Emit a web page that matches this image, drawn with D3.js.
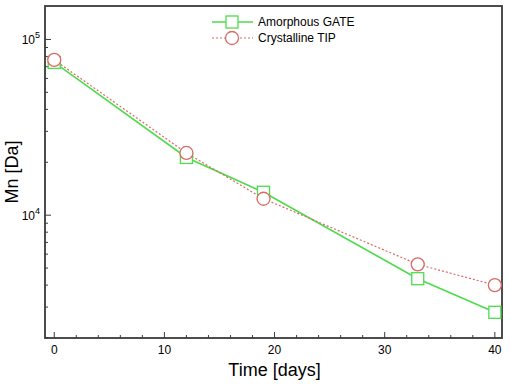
<!DOCTYPE html>
<html><head><meta charset="utf-8">
<script src="https://cdn.jsdelivr.net/npm/d3@7"></script>
<style>body{margin:0;background:#fff;font-family:"Liberation Sans",Arial,sans-serif}</style>
</head><body><svg id="c" width="510" height="384"></svg>
<script>
const days = [0, 12, 19, 33, 40];
const amorphousGATE = [74000, 21300, 13500, 4350, 2800];
const crystallineTIP = [76500, 22600, 12400, 5250, 4000];
const seriesNames = ["Amorphous GATE", "Crystalline TIP"];
const xTickValues = [0, 10, 20, 30, 40];

const svg = d3.select("#c");
const L = 45, R = 502, T = 6, B = 338;
const x = d3.scaleLinear().domain([-0.84, 40.65]).range([L, R]);
const y = d3.scaleLog().domain([2000, 155000]).range([B, T]);
const green = "#4ddc4d", red = "#d96a63", frame = "#3a3a3a";

// frame
svg.append("rect").attr("x", L).attr("y", T).attr("width", R - L).attr("height", B - T)
  .attr("fill", "none").attr("stroke", frame).attr("stroke-width", 1.8);

// x ticks (inward)
const xMinor = d3.range(0, 41, 2);
svg.append("g").selectAll("line").data(xMinor).join("line")
  .attr("x1", d => x(d)).attr("x2", d => x(d))
  .attr("y1", B).attr("y2", d => B - (d % 10 === 0 ? 6 : 3))
  .attr("stroke", frame).attr("stroke-width", 1);
svg.append("g").selectAll("text").data(xTickValues).join("text")
  .attr("x", d => x(d)).attr("y", B + 16).attr("text-anchor", "middle")
  .attr("font-size", 12).text(d => d);

// y ticks
const yMinor = [];
[1000, 10000, 100000].forEach(b => { for (let k = 1; k <= 9; k++) { const v = b * k; if (v >= 2000 && v <= 155000) yMinor.push(v); } });
svg.append("g").selectAll("line").data(yMinor).join("line")
  .attr("x1", L).attr("x2", d => L + ([10000, 100000].includes(d) ? 6 : 3))
  .attr("y1", d => y(d)).attr("y2", d => y(d))
  .attr("stroke", frame).attr("stroke-width", 1);
const yLab = svg.append("g").selectAll("text").data([10000, 100000]).join("text")
  .attr("x", L - 5).attr("y", d => y(d) + 5).attr("text-anchor", "end").attr("font-size", 12);
yLab.append("tspan").text("10");
yLab.append("tspan").attr("dy", -6).attr("font-size", 9).text(d => Math.round(Math.log10(d)));

// lines
const line = d3.line().x(d => x(d[0])).y(d => y(d[1]));
const gData = days.map((d, i) => [d, amorphousGATE[i]]);
const rData = days.map((d, i) => [d, crystallineTIP[i]]);
svg.append("path").attr("d", line(gData)).attr("fill", "none").attr("stroke", green).attr("stroke-width", 1.6);
svg.append("path").attr("d", line(rData)).attr("fill", "none").attr("stroke", red).attr("stroke-width", 1.2).attr("stroke-dasharray", "2,2");
svg.append("g").selectAll("rect").data(gData).join("rect")
  .attr("x", d => x(d[0]) - 6).attr("y", d => y(d[1]) - 6).attr("width", 12).attr("height", 12)
  .attr("fill", "#fff").attr("stroke", green).attr("stroke-width", 1.3);
svg.append("g").selectAll("circle").data(rData).join("circle")
  .attr("cx", d => x(d[0])).attr("cy", d => y(d[1])).attr("r", 6.5)
  .attr("fill", "#fff").attr("stroke", red).attr("stroke-width", 1.3);

// legend
const lg = svg.append("g");
lg.append("line").attr("x1", 212).attr("x2", 253).attr("y1", 22).attr("y2", 22).attr("stroke", green).attr("stroke-width", 1.6);
lg.append("rect").attr("x", 226).attr("y", 16).attr("width", 12).attr("height", 12).attr("fill", "#fff").attr("stroke", green).attr("stroke-width", 1.3);
lg.append("line").attr("x1", 212).attr("x2", 253).attr("y1", 38).attr("y2", 38).attr("stroke", red).attr("stroke-width", 1.2).attr("stroke-dasharray", "2,2");
lg.append("circle").attr("cx", 232).attr("cy", 38).attr("r", 6.5).attr("fill", "#fff").attr("stroke", red).attr("stroke-width", 1.3);
lg.selectAll("text").data(seriesNames).join("text")
  .attr("x", 258).attr("y", (d, i) => 26 + i * 16).attr("font-size", 12).text(d => d);

// axis titles
svg.append("text").attr("x", x(20)).attr("y", 376).attr("text-anchor", "middle").attr("font-size", 18).text("Time [days]");
svg.append("text").attr("transform", "translate(18," + ((T + B) / 2) + ") rotate(-90)")
  .attr("text-anchor", "middle").attr("font-size", 18).text("Mn [Da]");
</script></body></html>
